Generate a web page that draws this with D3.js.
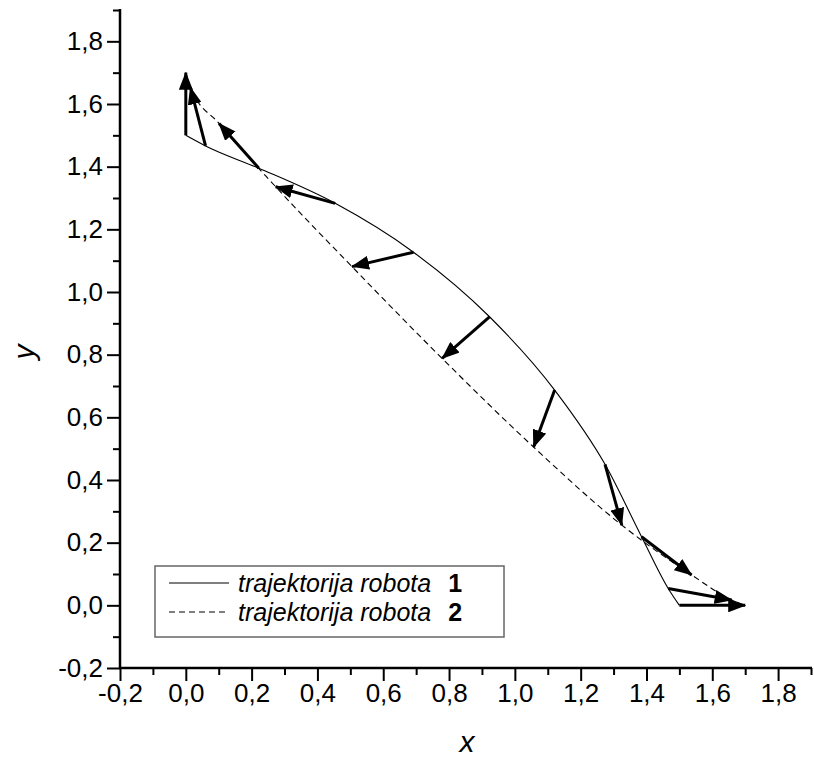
<!DOCTYPE html>
<html><head><meta charset="utf-8">
<script src="https://cdn.jsdelivr.net/npm/d3@7"></script>
<style>body{margin:0;background:#fff}svg{display:block}</style>
</head><body>
<svg id="c" width="814" height="760"></svg>
<script>
// Trajectory of robot 1 (solid)
const traj1X = [0.0, 0.06, 0.222, 0.454, 0.692, 0.923, 1.121, 1.274, 1.385, 1.466, 1.5];
const traj1Y = [1.5, 1.466, 1.395, 1.283, 1.127, 0.921, 0.687, 0.450, 0.219, 0.054, 0.0];
// Trajectory of robot 2 (dashed)
const traj2X = [0.0, 0.014, 0.101, 0.273, 0.505, 0.779, 1.057, 1.325, 1.537, 1.659, 1.70];
const traj2Y = [1.70, 1.653, 1.538, 1.336, 1.081, 0.788, 0.505, 0.256, 0.097, 0.017, 0.0];
// Axis ticks
const majorTicks = [-0.2, 0.0, 0.2, 0.4, 0.6, 0.8, 1.0, 1.2, 1.4, 1.6, 1.8];
const minorTicks = [-0.1, 0.1, 0.3, 0.5, 0.7, 0.9, 1.1, 1.3, 1.5, 1.7, 1.9];
const legendLabels = ["trajektorija robota", "trajektorija robota"];
const legendNums = ["1", "2"];

const svg = d3.select("#c");
const x = d3.scaleLinear().domain([-0.2, 1.9]).range([120, 811]);
const y = d3.scaleLinear().domain([-0.2, 1.9]).range([668, 10]);
const loc = d3.formatLocale({decimal: ",", thousands: ".", grouping: [3], currency: ["", ""], minus: "-"});
const fmt = loc.format(".1f");
const FONT = "Arial, 'Liberation Sans', sans-serif";

const defs = svg.append("defs");
defs.append("marker").attr("id", "ah").attr("viewBox", "0 0 18 14")
  .attr("refX", 17).attr("refY", 7).attr("markerWidth", 18).attr("markerHeight", 14)
  .attr("markerUnits", "userSpaceOnUse").attr("orient", "auto")
  .append("path").attr("d", "M0,0 L18,7 L0,14 Z").attr("fill", "#000");

const p1 = traj1X.map((v, i) => [v, traj1Y[i]]);
const p2 = traj2X.map((v, i) => [v, traj2Y[i]]);

const line1 = d3.line().x(d => x(d[0])).y(d => y(d[1])).curve(d3.curveMonotoneX);
const line2 = d3.line().x(d => x(d[0])).y(d => y(d[1])).curve(d3.curveMonotoneX);

svg.append("path").attr("d", line1(p1)).attr("fill", "none").attr("stroke", "#000").attr("stroke-width", 1.1);
svg.append("path").attr("d", line2(p2)).attr("fill", "none").attr("stroke", "#000").attr("stroke-width", 1.1)
  .attr("stroke-dasharray", "6,4");

// arrows
svg.append("g").selectAll("line").data(p1).join("line")
  .attr("x1", d => x(d[0])).attr("y1", d => y(d[1]))
  .attr("x2", (d, i) => x(p2[i][0])).attr("y2", (d, i) => y(p2[i][1]))
  .attr("stroke", "#000").attr("stroke-width", 3)
  .attr("marker-end", "url(#ah)");

// axes
function styleAxis(g) {
  g.selectAll("line").attr("stroke", "#000").attr("stroke-width", 2);
  g.selectAll("path.domain").remove();
  g.selectAll("text").attr("font-family", FONT).attr("font-size", 26).attr("fill", "#000");
}
const gx = svg.append("g").attr("transform", "translate(0,668)");
gx.append("g").call(d3.axisBottom(x).tickValues(majorTicks).tickSize(13).tickPadding(3).tickFormat(fmt)).call(styleAxis);
gx.append("g").call(d3.axisBottom(x).tickValues(minorTicks).tickSize(7).tickFormat("")).call(styleAxis);
gx.append("line").attr("x1", 119).attr("x2", 812).attr("stroke", "#000").attr("stroke-width", 2.5);

const gy = svg.append("g").attr("transform", "translate(120,0)");
gy.append("g").call(d3.axisLeft(y).tickValues(majorTicks).tickSize(13).tickPadding(4).tickFormat(fmt)).call(styleAxis);
gy.append("g").call(d3.axisLeft(y).tickValues(minorTicks).tickSize(7).tickFormat("")).call(styleAxis);
gy.append("line").attr("y1", 669).attr("y2", 9).attr("stroke", "#000").attr("stroke-width", 2.5);

svg.append("text").attr("x", 467).attr("y", 752).attr("text-anchor", "middle")
  .attr("font-family", FONT).attr("font-style", "italic").attr("font-size", 30).text("x");
svg.append("text").attr("transform", "translate(34,352) rotate(-90)").attr("text-anchor", "middle")
  .attr("font-family", FONT).attr("font-style", "italic").attr("font-size", 30).text("y");

// legend
const lg = svg.append("g");
lg.append("rect").attr("x", 155).attr("y", 566).attr("width", 349).attr("height", 71)
  .attr("fill", "#fff").attr("stroke", "#666").attr("stroke-width", 1.5);
[0, 1].forEach(i => {
  const cy = 583 + i * 29;
  lg.append("line").attr("x1", 169).attr("x2", 229).attr("y1", cy).attr("y2", cy)
    .attr("stroke", "#000").attr("stroke-width", 1.1).attr("stroke-dasharray", i ? "6,4" : null);
  const t = lg.append("text").attr("x", 238).attr("y", cy + 9)
    .attr("font-family", FONT).attr("font-size", 25);
  t.append("tspan").attr("font-style", "italic").text(legendLabels[i]);
  t.append("tspan").attr("font-weight", "bold").attr("dx", 17).text(legendNums[i]);
});
</script>
</body></html>
